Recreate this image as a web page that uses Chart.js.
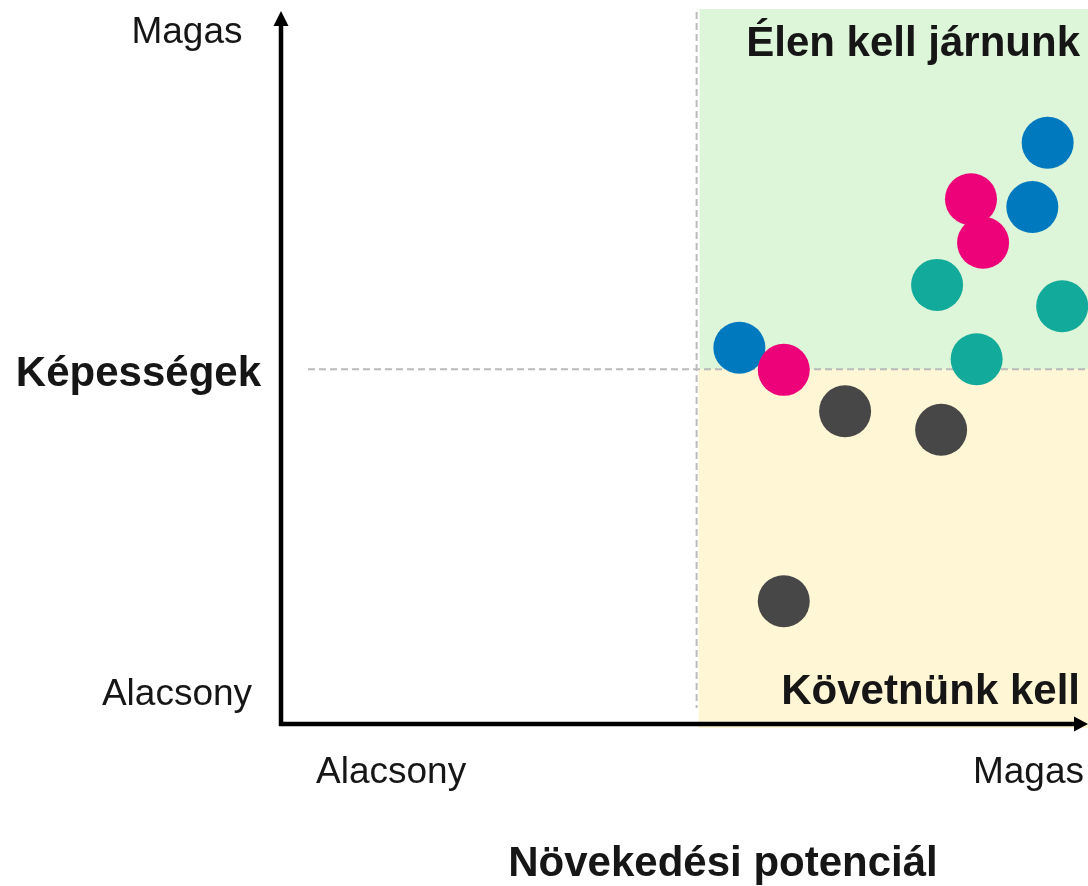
<!DOCTYPE html>
<html>
<head>
<meta charset="utf-8">
<script src="https://cdn.jsdelivr.net/npm/chart.js@4/dist/chart.umd.min.js"></script>
<style>
  html, body { margin: 0; padding: 0; background: #ffffff; overflow: hidden; }
  canvas { display: block; }
</style>
</head>
<body>
<canvas id="c" width="1088" height="886"></canvas>
<script>
// ---- Data (0–10 scale) ----
const seriesNames = ['Rózsaszín', 'Kék', 'Türkiz', 'Szürke'];
const pinkX = [8.55, 8.70, 6.23];
const pinkY = [7.35, 6.74, 4.96];
const blueX = [9.50, 9.31, 5.68];
const blueY = [8.14, 7.24, 5.27];
const tealX = [8.13, 9.68, 8.62];
const tealY = [6.15, 5.85, 5.11];
const greyX = [6.99, 8.18, 6.23];
const greyY = [4.38, 4.12, 1.72];

const xTickLabels = ['Alacsony', 'Magas'];
const yTickLabels = ['Alacsony', 'Magas'];
const xTitle = 'Növekedési potenciál';
const yTitle = 'Képességek';
const quadrantTopRight = 'Élen kell járnunk';
const quadrantBottomRight = 'Követnünk kell';
const xMin = 0, xMax = 10, yMin = 0, yMax = 10;
const xMid = 5.15, yMid = 4.97;

const colors = ['#EE0279', '#0079BF', '#12AA9A', '#474747'];
const FONT = '"Liberation Sans", Arial, sans-serif';
const TXT = '#161616';

function pts(xs, ys) { return xs.map((x, i) => ({ x: x, y: ys[i] })); }

const seriesData = [pts(pinkX, pinkY), pts(blueX, blueY), pts(tealX, tealY), pts(greyX, greyY)];

const decor = {
  id: 'decor',
  beforeDatasetsDraw(chart) {
    const ctx = chart.ctx;
    const xs = chart.scales.x, ys = chart.scales.y;
    const xm = xs.getPixelForValue(xMid);
    const ym = ys.getPixelForValue(yMid);
    const x0 = xs.getPixelForValue(xMin);
    const y0 = ys.getPixelForValue(yMin);
    const yTop = ys.getPixelForValue(yMax);
    const xRight = xs.getPixelForValue(xMax);
    ctx.save();
    // quadrant backgrounds
    ctx.fillStyle = '#DDF5D8';
    ctx.fillRect(xm + 3, yTop - 1, xRight - xm - 3, ym - yTop + 1);
    ctx.fillStyle = '#FFF6D6';
    ctx.fillRect(xm + 2, ym, xRight - xm - 2, y0 + 4 - ym);
    // dashed guide lines
    ctx.strokeStyle = '#BBBBBB';
    ctx.lineWidth = 2;
    ctx.setLineDash([7, 4]);
    ctx.beginPath();
    ctx.moveTo(xm, yTop + 2);
    ctx.lineTo(xm, y0 - 16);
    ctx.stroke();
    ctx.beginPath();
    ctx.moveTo(x0 + 27, ym);
    ctx.lineTo(xRight, ym);
    ctx.stroke();
    ctx.setLineDash([]);
    // quadrant labels
    ctx.fillStyle = TXT;
    ctx.font = 'bold 42px ' + FONT;
    ctx.textAlign = 'right';
    ctx.textBaseline = 'middle';
    ctx.fillText(quadrantTopRight, xRight - 8, yTop + 34);
    ctx.fillText(quadrantBottomRight, xRight - 8, y0 - 32);
    // axes
    ctx.strokeStyle = '#000000';
    ctx.fillStyle = '#000000';
    ctx.lineWidth = 4.5;
    ctx.beginPath();
    ctx.moveTo(x0, y0 + 2);
    ctx.lineTo(x0, yTop + 14);
    ctx.stroke();
    ctx.beginPath();
    ctx.moveTo(x0 - 2, y0);
    ctx.lineTo(xRight - 12, y0);
    ctx.stroke();
    // arrowheads
    ctx.beginPath();
    ctx.moveTo(x0, yTop + 1);
    ctx.lineTo(x0 - 7.5, yTop + 16);
    ctx.lineTo(x0 + 7.5, yTop + 16);
    ctx.closePath();
    ctx.fill();
    ctx.beginPath();
    ctx.moveTo(xRight, y0);
    ctx.lineTo(xRight - 14, y0 - 7.5);
    ctx.lineTo(xRight - 14, y0 + 7.5);
    ctx.closePath();
    ctx.fill();
    // tick labels
    ctx.fillStyle = TXT;
    ctx.font = '37px ' + FONT;
    ctx.textBaseline = 'middle';
    ctx.textAlign = 'center';
    ctx.fillText(yTickLabels[1], 187, yTop + 23);
    ctx.fillText(yTickLabels[0], 177, y0 - 29);
    ctx.textAlign = 'left';
    ctx.fillText(xTickLabels[0], 316, y0 + 49);
    ctx.textAlign = 'right';
    ctx.fillText(xTickLabels[1], xRight - 4, y0 + 49);
    // axis titles
    ctx.font = 'bold 42px ' + FONT;
    ctx.textAlign = 'right';
    ctx.fillText(yTitle, 261, ym + 5);
    ctx.textAlign = 'center';
    ctx.fillText(xTitle, 723, y0 + 140);
    ctx.restore();
  }
};

new Chart(document.getElementById('c'), {
  type: 'scatter',
  data: {
    datasets: seriesData.map((d, i) => ({
      label: seriesNames[i],
      data: d,
      backgroundColor: colors[i],
      borderWidth: 0,
      pointRadius: 26,
      pointHoverRadius: 26,
      clip: false
    }))
  },
  options: {
    responsive: false,
    animation: false,
    devicePixelRatio: 1,
    events: [],
    layout: { autoPadding: false, padding: { left: 281, right: 0, top: 10, bottom: 162 } },
    plugins: { legend: { display: false }, tooltip: { enabled: false } },
    scales: {
      x: { type: 'linear', min: xMin, max: xMax, display: false },
      y: { type: 'linear', min: yMin, max: yMax, display: false }
    }
  },
  plugins: [decor]
});
</script>
</body>
</html>
